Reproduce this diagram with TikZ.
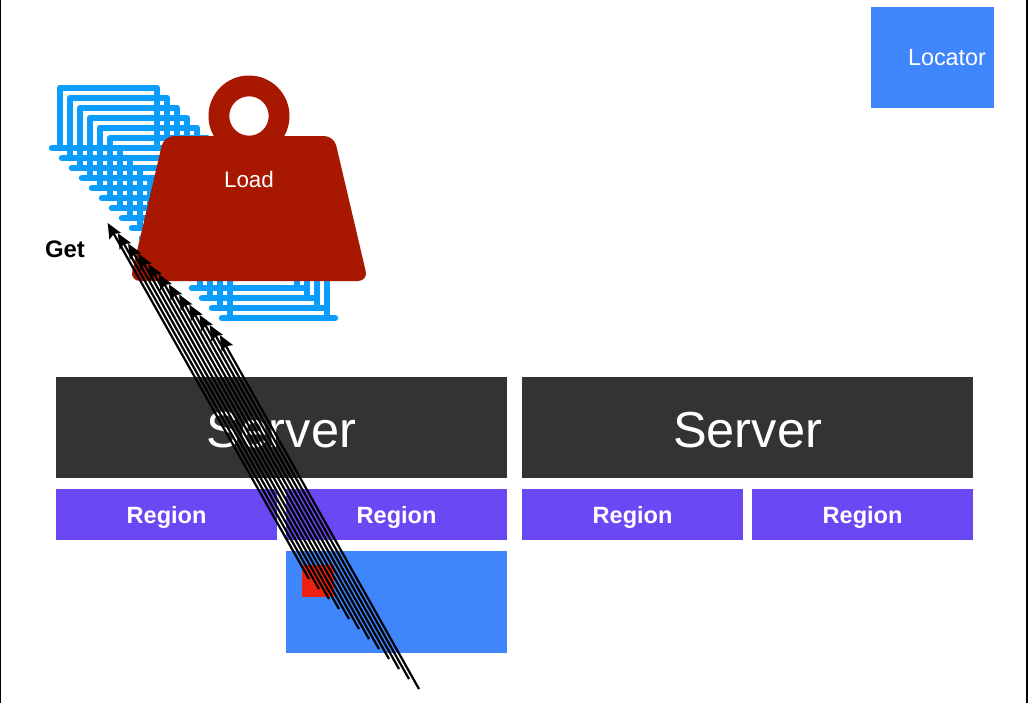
\documentclass[tikz,border=0pt]{standalone}
\usepackage{fontspec}
\setmainfont{Liberation Sans}
\usepackage{xcolor}
\usetikzlibrary{arrows.meta, positioning}
\definecolor{serverdark}{HTML}{333333}
\definecolor{regionviolet}{HTML}{6A48F4}
\definecolor{storeblue}{HTML}{3F85FB}
\definecolor{entrycyan}{HTML}{0C9DFC}
\definecolor{loadred}{HTML}{A81800}
\definecolor{keyred}{HTML}{EE2010}

\begin{document}
\begin{tikzpicture}[
    x=0.02cm, y=-0.02cm,
    node distance=0.3cm and 0.29cm,
    serverblock/.style={rectangle, fill=serverdark, text=white, minimum width=9.02cm, minimum height=2.02cm, inner sep=0pt, text height=22.7pt, text depth=0pt, font=\fontsize{28.8}{30}\selectfont},
    regionblock/.style={rectangle, fill=regionviolet, text=white, minimum width=4.41cm, minimum height=1.02cm, inner sep=0pt, text height=10.4pt, text depth=0pt, font=\fontsize{13.4}{15}\selectfont\bfseries},
    blueblock/.style={rectangle, fill=storeblue, inner sep=0pt},
    entry/.style={draw=entrycyan, line width=3.7pt, line join=round, line cap=round},
    getarrow/.style={-{Stealth[length=3mm, width=2.6mm, inset=0.5mm]}, black, line width=1.25pt},
]
\useasboundingbox (0,0) rectangle (1029,703);
\fill[white] (0,0) rectangle (1029,703);
\draw[black, line width=0.8pt] (0.5,0) -- (0.5,703);
\draw[black, line width=0.8pt] (1027,0) -- (1027,703);

% stacked entries
\foreach \k in {0,...,17} {
    \draw[entry] (60+10*\k,148+10*\k) -- (60+10*\k,88+10*\k) -- (157+10*\k,88+10*\k) -- (157+10*\k,148+10*\k);
    \draw[entry] (52+10*\k,148+10*\k) -- (165+10*\k,148+10*\k);
}

% weight
\fill[loadred, even odd rule] (249,116) circle [radius=40.5] (249,116) circle [radius=19.7];
\fill[loadred, rounded corners=0.2cm] (164,136) -- (334,136) -- (368,281) -- (130,281) -- cycle;
\node[text=white, font=\fontsize{12.75}{15}\selectfont] (load) at (249,179) {Load};
\node[font=\fontsize{13.6}{15}\selectfont\bfseries] (get) at (65,249) {Get};

% servers and regions
\node[serverblock] (serverleft) at (281.5,427.5) {Server};
\node[serverblock, right=0.29cm of serverleft] (serverright) {Server};
\node[regionblock, anchor=north west] (regionone) at (56,489) {Region};
\node[regionblock, anchor=north west] (regiontwo) at (286,489) {Region};
\node[regionblock, anchor=north west] (regionthree) at (522,489) {Region};
\node[regionblock, anchor=north west] (regionfour) at (752,489) {Region};
\node[blueblock, minimum width=4.42cm, minimum height=2.04cm, anchor=north west] (store) at (286,551) {};
\node[rectangle, fill=keyred, minimum size=0.64cm, inner sep=0pt, anchor=north west] (key) at (302,565) {};
\node[blueblock, minimum width=2.46cm, minimum height=2.02cm, anchor=north west] (locator) at (871,7) {};
\node[text=white, font=\fontsize{13.3}{15}\selectfont] (locatorname) at (947,58) {Locator};

% get requests
\foreach \k in {0,...,11} {
    \coordinate (gettail\k) at (309+10*\k,579+10*\k);
    \coordinate (gettip\k) at (107.7+10.2*\k,223+10.2*\k);
    \draw[getarrow] (gettail\k) -- (gettip\k);
}
\end{tikzpicture}
\end{document}
